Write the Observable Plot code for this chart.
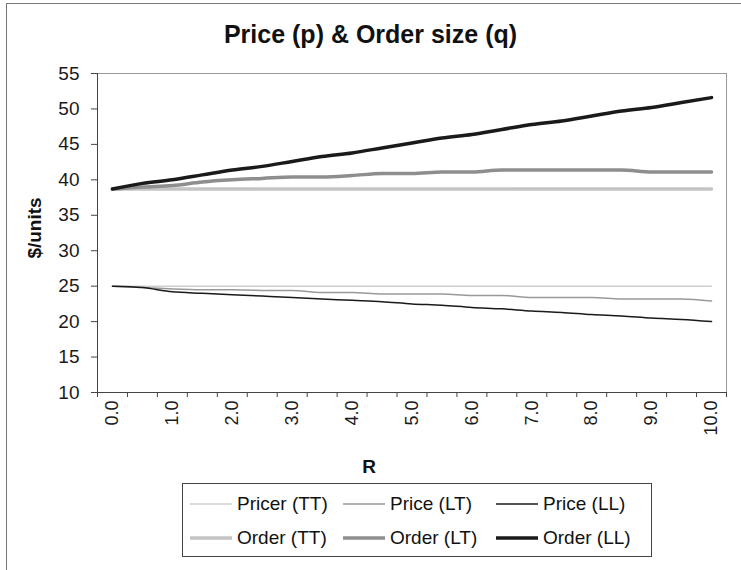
<!DOCTYPE html>
<html>
<head>
<meta charset="utf-8">
<script src="https://cdn.jsdelivr.net/npm/d3@7"></script>
<script src="https://cdn.jsdelivr.net/npm/@observablehq/plot@0.6"></script>
<style>
  html, body { margin: 0; padding: 0; background: #fff; }
  body { font-family: "Liberation Sans", Arial, sans-serif; color: #111; }
  #wrap { position: relative; width: 741px; height: 570px; overflow: hidden; }
  #outer { position: absolute; left: 6px; top: 3px; width: 760px; height: 600px;
           border-left: 1px solid #777; border-top: 1px solid #777; }
  #title { position: absolute; left: 0; top: 20px; width: 741px; text-align: center;
           font-weight: bold; font-size: 25px; }
  #chart { position: absolute; left: 0; top: 55px; }
  #ylab { position: absolute; left: 35px; top: 228px; font-weight: bold; font-size: 19px;
          transform: translate(-50%, -50%) rotate(-90deg); white-space: nowrap; }
  #xlab { position: absolute; left: 369px; top: 467px; font-weight: bold; font-size: 19px;
          transform: translate(-50%, -50%); }
  #legend { position: absolute; left: 182px; top: 483px; width: 470px; height: 74px;
            box-sizing: border-box; border: 1px solid #444; background: #fff;
            display: grid; grid-template-columns: 153px 153px 153px; grid-template-rows: 34px 34px;
            padding: 3px 0 0 7px; font-size: 19px; }
  .item { display: flex; align-items: center; white-space: nowrap; }
  .item svg { margin-right: 5px; }
</style>
</head>
<body>
<div id="wrap">
  <div id="outer"></div>
  <div id="title">Price (p) &amp; Order size (q)</div>
  <div id="chart"></div>
  <div id="ylab">$/units</div>
  <div id="xlab">R</div>
  <div id="legend"></div>
</div>
<script>
// ---- data ----
const R = [0, 0.5, 1, 1.5, 2, 2.5, 3, 3.5, 4, 4.5, 5, 5.5, 6, 6.5, 7, 7.5, 8, 8.5, 9, 9.5, 10];
const priceTT = [25, 25, 25, 25, 25, 25, 25, 25, 25, 25, 25, 25, 25, 25, 25, 25, 25, 25, 25, 25, 25];
const priceLT = [25, 24.8, 24.6, 24.5, 24.5, 24.4, 24.4, 24.1, 24.1, 23.9, 23.9, 23.9, 23.7, 23.7, 23.4, 23.4, 23.4, 23.2, 23.2, 23.2, 22.9];
const priceLL = [25, 24.8, 24.2, 24.0, 23.8, 23.6, 23.4, 23.2, 23.0, 22.8, 22.5, 22.3, 22.0, 21.8, 21.5, 21.3, 21.0, 20.8, 20.5, 20.3, 20.0];
const orderTT = [38.7, 38.7, 38.7, 38.7, 38.7, 38.7, 38.7, 38.7, 38.7, 38.7, 38.7, 38.7, 38.7, 38.7, 38.7, 38.7, 38.7, 38.7, 38.7, 38.7, 38.7];
const orderLT = [38.7, 39.0, 39.2, 39.7, 40.0, 40.2, 40.4, 40.4, 40.6, 40.9, 40.9, 41.1, 41.1, 41.4, 41.4, 41.4, 41.4, 41.4, 41.1, 41.1, 41.1];
const orderLL = [38.7, 39.5, 40.0, 40.7, 41.4, 41.9, 42.6, 43.3, 43.8, 44.5, 45.2, 45.9, 46.4, 47.1, 47.8, 48.3, 49.0, 49.7, 50.2, 50.9, 51.6];
const seriesNames = ["Pricer (TT)", "Price (LT)", "Price (LL)", "Order (TT)", "Order (LT)", "Order (LL)"];
const yTicks = [10, 15, 20, 25, 30, 35, 40, 45, 50, 55];
const xTickValues = [0, 1, 2, 3, 4, 5, 6, 7, 8, 9, 10];
const xTickLabels = ["0.0", "1.0", "2.0", "3.0", "4.0", "5.0", "6.0", "7.0", "8.0", "9.0", "10.0"];

// ---- styles ----
const styles = [
  {stroke: "#cfcfcf", width: 1.5},
  {stroke: "#999999", width: 1.5},
  {stroke: "#1a1a1a", width: 1.5},
  {stroke: "#c4c4c4", width: 3.5},
  {stroke: "#8e8e8e", width: 3.5},
  {stroke: "#1a1a1a", width: 3.5}
];
const values = [priceTT, priceLT, priceLL, orderTT, orderLT, orderLL];
const series = seriesNames.map((name, k) => ({
  name, ...styles[k],
  data: R.map((r, i) => ({r, v: values[k][i], name}))
}));

const half = (R[1] - R[0]) / 2;
const xDomain = [R[0] - half, R[R.length - 1] + half];
const boundaries = R.map(r => r - half).concat([R[R.length - 1] + half]);

const chart = Plot.plot({
  width: 741,
  height: 420,
  marginLeft: 97,
  marginRight: 15,
  marginTop: 18,
  marginBottom: 83,
  style: {fontFamily: "'Liberation Sans', Arial, sans-serif", fontSize: "19px", color: "#1a1a1a", background: "transparent"},
  x: {domain: xDomain, label: null},
  y: {domain: [yTicks[0], yTicks[yTicks.length - 1]], label: null},
  marks: [
    Plot.frame({stroke: "#9a9a9a"}),
    ...series.map(s => Plot.line(s.data, {x: "r", y: "v", stroke: s.stroke, strokeWidth: s.width, curve: "monotone-x"})),
    Plot.ruleX([xDomain[0]], {stroke: "#444"}),
    Plot.ruleY([yTicks[0]], {stroke: "#444"}),
    Plot.axisY({ticks: yTicks, tickSize: 6, tickPadding: 12, label: null, stroke: "#444", fontSize: 19}),
    Plot.axisX({ticks: boundaries, tickSize: 5, tickFormat: () => "", label: null, stroke: "#444"}),
    Plot.axisX({ticks: xTickValues, tickSize: 0, tickRotate: -90, tickPadding: 8, label: null,
                tickFormat: d => xTickLabels[xTickValues.indexOf(d)], fontSize: 18})
  ]
});
document.getElementById("chart").appendChild(chart);

// ---- legend (below plot) ----
const legend = document.getElementById("legend");
series.forEach(s => {
  const item = document.createElement("div");
  item.className = "item";
  item.innerHTML = `<svg width="42" height="10"><line x1="0" x2="42" y1="5" y2="5" stroke="${s.stroke}" stroke-width="${s.width}"/></svg><span>${s.name}</span>`;
  legend.appendChild(item);
});
</script>
</body>
</html>
